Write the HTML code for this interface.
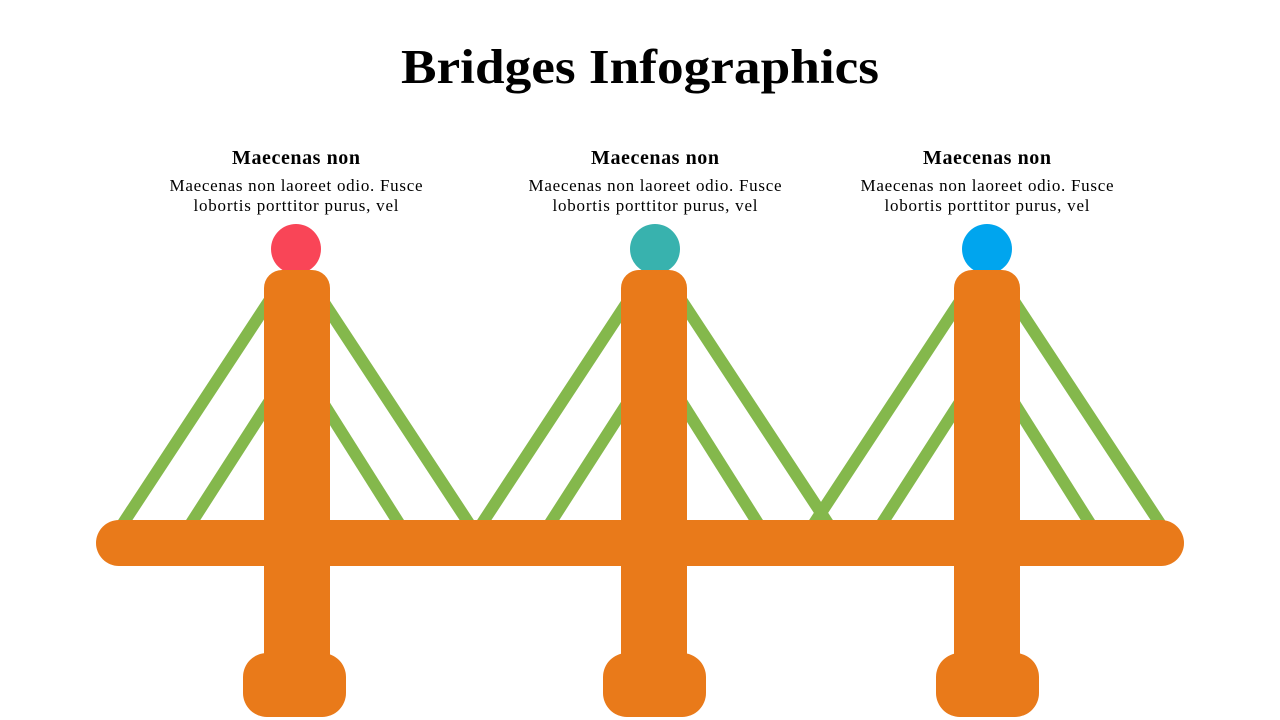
<!DOCTYPE html>
<html><head><meta charset="utf-8"><style>
html,body{margin:0;padding:0;background:#fff;}
svg{display:block}
</style></head><body>
<svg width="1280" height="720" viewBox="0 0 1280 720" xmlns="http://www.w3.org/2000/svg">
<text x="640" y="83" text-anchor="middle" font-family="Liberation Serif, serif" font-weight="bold" font-size="49" textLength="478" lengthAdjust="spacingAndGlyphs" fill="#000">Bridges Infographics</text>
<g font-family="Liberation Serif, serif" text-anchor="middle" fill="#000" lengthAdjust="spacingAndGlyphs">
<text x="296" y="164" font-weight="bold" font-size="20" textLength="128">Maecenas non</text>
<text x="296" y="191" font-size="17" textLength="253">Maecenas non laoreet odio. Fusce</text>
<text x="296" y="211" font-size="17" textLength="205">lobortis porttitor purus, vel</text>
<text x="655" y="164" font-weight="bold" font-size="20" textLength="128">Maecenas non</text>
<text x="655" y="191" font-size="17" textLength="253">Maecenas non laoreet odio. Fusce</text>
<text x="655" y="211" font-size="17" textLength="205">lobortis porttitor purus, vel</text>
<text x="987" y="164" font-weight="bold" font-size="20" textLength="128">Maecenas non</text>
<text x="987" y="191" font-size="17" textLength="253">Maecenas non laoreet odio. Fusce</text>
<text x="987" y="211" font-size="17" textLength="205">lobortis porttitor purus, vel</text>
</g>
<g stroke="#84B84C" stroke-width="12">
<line x1="296" y1="260" x2="122" y2="525"/><line x1="296" y1="360" x2="190" y2="525"/>
<line x1="296" y1="260" x2="470" y2="525"/><line x1="296" y1="360" x2="400" y2="525"/>
<line x1="655" y1="260" x2="481" y2="525"/><line x1="655" y1="360" x2="549" y2="525"/>
<line x1="655" y1="260" x2="829" y2="525"/><line x1="655" y1="360" x2="759" y2="525"/>
<line x1="987" y1="260" x2="813" y2="525"/><line x1="987" y1="360" x2="881" y2="525"/>
<line x1="987" y1="260" x2="1161" y2="525"/><line x1="987" y1="360" x2="1091" y2="525"/>
</g>
<circle cx="296" cy="249" r="25" fill="#F94557"/>
<circle cx="655" cy="249" r="25" fill="#38B2AE"/>
<circle cx="987" cy="249" r="25" fill="#00A5EE"/>
<g fill="#E97A1A">
<rect x="96" y="520" width="1088" height="46" rx="23"/>
<rect x="264" y="270" width="66" height="420" rx="18"/>
<rect x="621" y="270" width="66" height="420" rx="18"/>
<rect x="954" y="270" width="66" height="420" rx="18"/>
<rect x="243" y="653" width="103" height="64" rx="24"/>
<rect x="603" y="653" width="103" height="64" rx="24"/>
<rect x="936" y="653" width="103" height="64" rx="24"/>
</g>
</svg>
</body></html>
